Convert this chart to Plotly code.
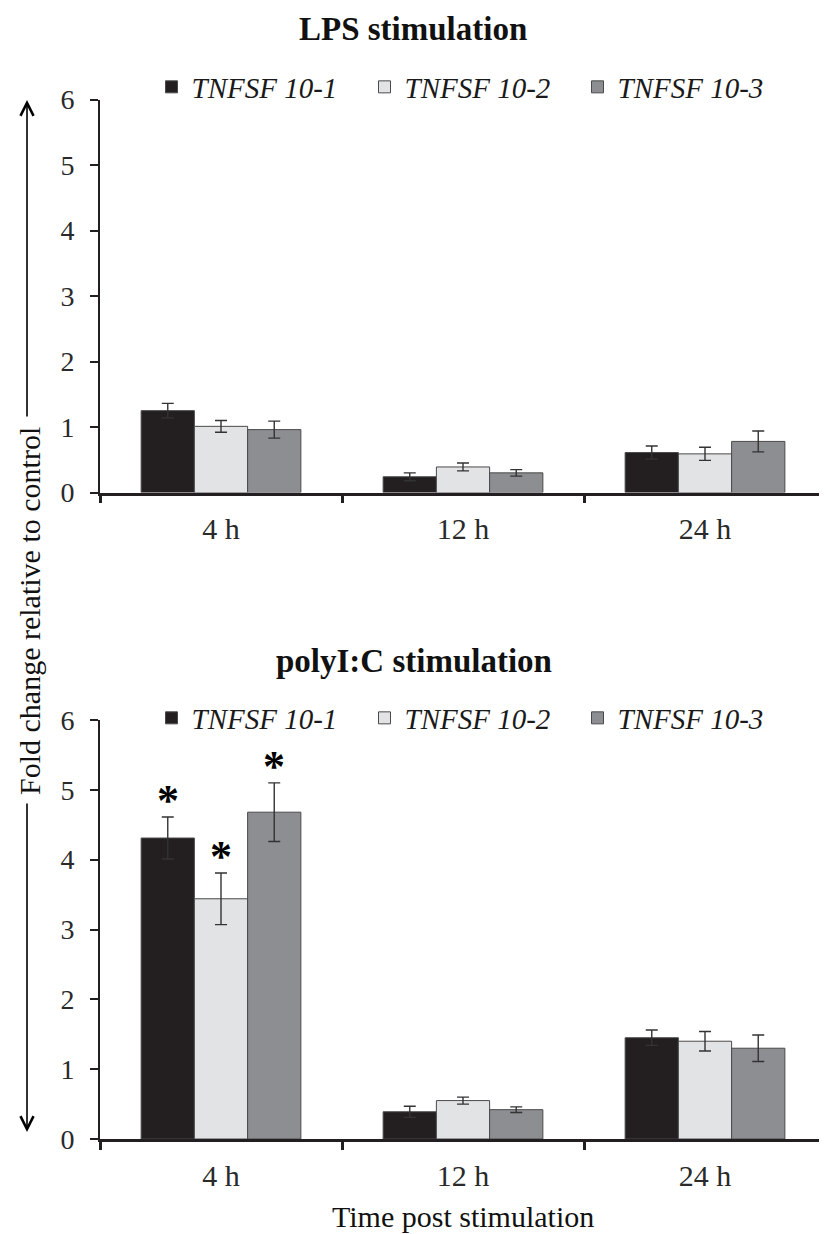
import plotly.graph_objects as go

# ---------------- data ----------------
categories = ["4 h", "12 h", "24 h"]
genes = ["TNFSF 10-1", "TNFSF 10-2", "TNFSF 10-3"]
colors = ["#231f20", "#e2e3e5", "#8d8e92"]

lps_10_1 = [1.25, 0.24, 0.61]
lps_10_2 = [1.01, 0.39, 0.59]
lps_10_3 = [0.96, 0.30, 0.78]
lps_err_10_1 = [0.11, 0.06, 0.10]
lps_err_10_2 = [0.09, 0.06, 0.10]
lps_err_10_3 = [0.13, 0.05, 0.16]

poly_10_1 = [4.31, 0.39, 1.45]
poly_10_2 = [3.44, 0.55, 1.40]
poly_10_3 = [4.68, 0.42, 1.30]
poly_err_10_1 = [0.30, 0.08, 0.11]
poly_err_10_2 = [0.37, 0.05, 0.14]
poly_err_10_3 = [0.42, 0.04, 0.19]

# significance flags (gene index, category index) for polyI:C
poly_sig = [(0, 0), (1, 0), (2, 0)]

y_ticks = [0, 1, 2, 3, 4, 5, 6]

# ---------------- layout helpers ----------------
PAGE_OFF = 8                      # default page margin around the plot div
W, H = 827 - PAGE_OFF, 1234 - PAGE_OFF
SERIF = "Liberation Serif, Times New Roman, serif"

def fx(px):
    return (px - PAGE_OFF) / W

def fy(py):
    return 1 - (py - PAGE_OFF) / H

x_dom = [fx(100), fx(826)]
top_dom = [fy(492.5), fy(99.5)]
bot_dom = [fy(1139), fy(720)]
bargap = 0.34

fig = go.Figure()

lps_vals = [lps_10_1, lps_10_2, lps_10_3]
lps_errs = [lps_err_10_1, lps_err_10_2, lps_err_10_3]
poly_vals = [poly_10_1, poly_10_2, poly_10_3]
poly_errs = [poly_err_10_1, poly_err_10_2, poly_err_10_3]

for i, g in enumerate(genes):
    fig.add_trace(go.Bar(
        x=categories, y=lps_vals[i], name=f"<i>{g}</i>",
        marker=dict(color=colors[i], line=dict(color="#4a4a4a", width=1)),
        error_y=dict(type="data", array=lps_errs[i], visible=True,
                     color="#333333", thickness=1.4, width=6),
        xaxis="x", yaxis="y", legend="legend", offsetgroup=str(i),
    ))
for i, g in enumerate(genes):
    fig.add_trace(go.Bar(
        x=categories, y=poly_vals[i], name=f"<i>{g}</i>",
        marker=dict(color=colors[i], line=dict(color="#4a4a4a", width=1)),
        error_y=dict(type="data", array=poly_errs[i], visible=True,
                     color="#333333", thickness=1.4, width=6),
        xaxis="x2", yaxis="y2", legend="legend2", offsetgroup=str(i),
    ))

axis_common_x = dict(
    type="category", range=[-0.5, 2.5], domain=x_dom, automargin=False,
    showline=True, linecolor="#231f20", linewidth=2.5,
    ticks="outside", tickson="boundaries", ticklen=8, tickwidth=2.5,
    tickcolor="#231f20", showgrid=False, zeroline=False,
    tickfont=dict(family=SERIF, size=30, color="#2a2a2a"),
    ticklabelstandoff=8,
)
axis_common_y = dict(
    range=[0, 6], tickvals=y_ticks, showline=True, linecolor="#231f20",
    automargin=False,
    linewidth=2, ticks="outside", ticklen=8, tickwidth=2, tickcolor="#231f20",
    showgrid=False, zeroline=False,
    tickfont=dict(family=SERIF, size=28, color="#2a2a2a"),
    ticklabelstandoff=10,
)

legend_common = dict(orientation="h", x=fx(471), xanchor="center", yanchor="middle",
                     font=dict(family=SERIF, size=29, color="#1a1a1a"),
                     bgcolor="rgba(0,0,0,0)", entrywidth=168)

fig.update_layout(
    template="none",
    width=W, height=H,
    margin=dict(l=0, r=0, t=0, b=0, autoexpand=False),
    paper_bgcolor="white", plot_bgcolor="white",
    barmode="group", bargap=bargap, bargroupgap=0,
    xaxis=dict(**axis_common_x, anchor="y"),
    yaxis=dict(**axis_common_y, domain=top_dom, anchor="x"),
    xaxis2=dict(**axis_common_x, anchor="y2"),
    yaxis2=dict(**axis_common_y, domain=bot_dom, anchor="x2"),
    legend=dict(**legend_common, y=fy(87)),
    legend2=dict(**legend_common, y=fy(718)),
    showlegend=True,
)

annotations = []
def note(text, px, py, size, angle=0):
    return dict(text=text, x=fx(px), y=fy(py), xref="paper", yref="paper",
                xanchor="center", yanchor="middle", showarrow=False,
                textangle=angle, font=dict(family=SERIF, size=size, color="#111111"))

# Titles
annotations.append(note("<b>LPS stimulation</b>", 413, 29, 33))
annotations.append(note("<b>polyI:C stimulation</b>", 414, 661, 33))
# x-axis title
annotations.append(note("Time post stimulation", 463, 1216, 30))
# y-axis title with arrows
annotations.append(note("Fold change relative to control", 29, 611, 30, angle=-90))
annotations.append(dict(text="", x=fx(27), y=fy(100), xref="paper", yref="paper",
                        showarrow=True, ax=0, ay=318, arrowhead=5, arrowsize=1.6,
                        arrowwidth=1.6, arrowcolor="black"))
annotations.append(dict(text="", x=fx(27), y=fy(1132), xref="paper", yref="paper",
                        showarrow=True, ax=0, ay=-330, arrowhead=5, arrowsize=1.6,
                        arrowwidth=1.6, arrowcolor="black"))

# significance asterisks
cat_px = (x_dom[1] - x_dom[0]) * W / len(categories)
bar_px = cat_px * (1 - bargap) / len(genes)
for gi, ci in poly_sig:
    annotations.append(dict(
        text="<b>*</b>", x=categories[ci], y=poly_vals[gi][ci] + poly_errs[gi][ci],
        xref="x2", yref="y2", showarrow=False, yanchor="bottom", xanchor="center",
        xshift=(gi - 1) * bar_px, yshift=-10,
        font=dict(family=SERIF, size=44, color="black")))

fig.update_layout(annotations=annotations)
fig.write_html("out.html")
